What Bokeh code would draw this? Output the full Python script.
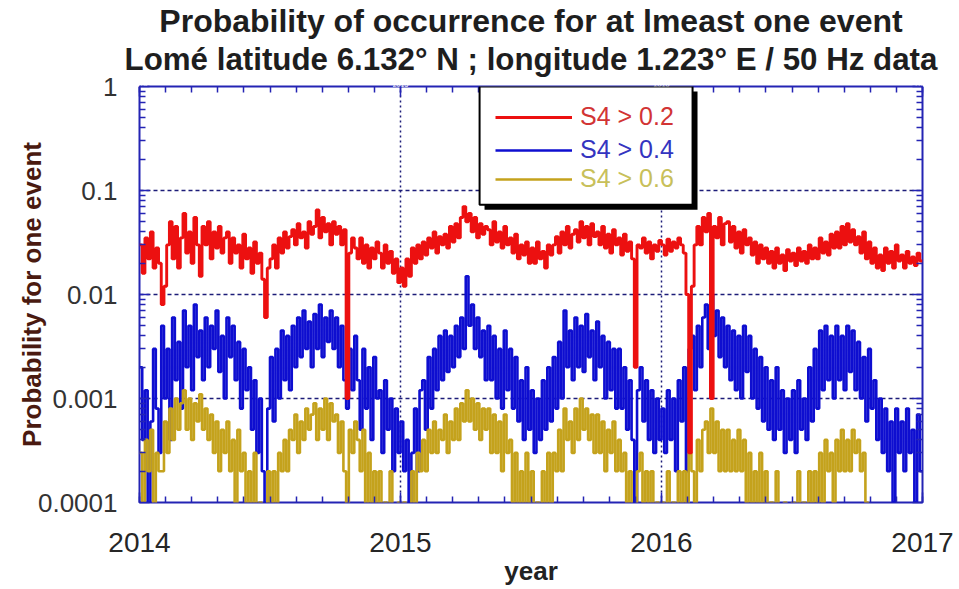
import numpy as np
from bokeh.plotting import figure
from bokeh.models import (Range1d, LinearAxis, LogAxis, FixedTicker, SingleIntervalTicker,
                          Title, Legend, LegendItem, BoxAnnotation)
from bokeh.embed import file_html
from bokeh.resources import INLINE

# ---------------- data (8 samples per month, Jan 2014 .. Dec 2016) ----------------
x_start, x_end = 2014, 2017
x_ticks_years = [2014, 2015, 2016, 2017]
y_ticks = [0.0001, 0.001, 0.01, 0.1, 1]
y_tick_labels = ["0.0001", "0.001", "0.01", "0.1", "1"]
series_labels = ["S4 > 0.2", "S4 > 0.4", "S4 > 0.6"]

s4_gt_02 = [
    0.030, 0.016, 0.035, 0.022, 0.040, 0.018, 0.028, 0.020,
    0.008, 0.012, 0.030, 0.050, 0.022, 0.045, 0.018, 0.035,
    0.060, 0.025, 0.040, 0.020, 0.055, 0.030, 0.015, 0.045,
    0.030, 0.050, 0.022, 0.040, 0.028, 0.045, 0.025, 0.035,
    0.040, 0.020, 0.035, 0.025, 0.030, 0.018, 0.038, 0.022,
    0.028, 0.016, 0.032, 0.020, 0.025, 0.014, 0.006, 0.018,
    0.022, 0.030, 0.018, 0.035, 0.025, 0.040, 0.028, 0.036,
    0.042, 0.030, 0.048, 0.035, 0.040, 0.028, 0.050, 0.038,
    0.045, 0.065, 0.035, 0.055, 0.040, 0.048, 0.030, 0.050,
    0.038, 0.045, 0.030, 0.042, 0.001, 0.025, 0.035, 0.028,
    0.022, 0.035, 0.020, 0.030, 0.018, 0.028, 0.022, 0.032,
    0.025, 0.018, 0.030, 0.020, 0.026, 0.016, 0.022, 0.013,
    0.018, 0.012, 0.022, 0.015, 0.028, 0.020, 0.030, 0.022,
    0.032, 0.024, 0.035, 0.028, 0.040, 0.025, 0.036, 0.030,
    0.038, 0.028, 0.045, 0.032, 0.048, 0.035, 0.055, 0.070,
    0.050, 0.060, 0.040, 0.055, 0.035, 0.048, 0.038, 0.045,
    0.042, 0.030, 0.050, 0.032, 0.040, 0.028, 0.045, 0.030,
    0.035, 0.025, 0.038, 0.022, 0.030, 0.024, 0.032, 0.020,
    0.028, 0.020, 0.032, 0.022, 0.026, 0.018, 0.030, 0.024,
    0.030, 0.036, 0.025, 0.040, 0.030, 0.045, 0.028, 0.038,
    0.042, 0.032, 0.050, 0.035, 0.045, 0.030, 0.048, 0.036,
    0.040, 0.030, 0.045, 0.028, 0.038, 0.025, 0.042, 0.030,
    0.035, 0.024, 0.038, 0.026, 0.032, 0.022, 0.002, 0.030,
    0.028, 0.035, 0.025, 0.032, 0.022, 0.030, 0.026, 0.033,
    0.030, 0.024, 0.034, 0.026, 0.032, 0.028, 0.035, 0.030,
    0.025, 0.010, 0.0003, 0.012, 0.030, 0.045, 0.030, 0.055,
    0.040, 0.060, 0.001, 0.045, 0.035, 0.055, 0.030, 0.048,
    0.050, 0.032, 0.045, 0.028, 0.040, 0.025, 0.042, 0.030,
    0.035, 0.024, 0.032, 0.020, 0.030, 0.022, 0.028, 0.020,
    0.026, 0.018, 0.028, 0.020, 0.024, 0.017, 0.027, 0.021,
    0.025, 0.019, 0.028, 0.021, 0.026, 0.020, 0.030, 0.022,
    0.028, 0.022, 0.035, 0.025, 0.032, 0.024, 0.038, 0.028,
    0.040, 0.028, 0.045, 0.030, 0.048, 0.032, 0.042, 0.030,
    0.036, 0.025, 0.040, 0.022, 0.032, 0.020, 0.028, 0.018,
    0.024, 0.017, 0.028, 0.020, 0.026, 0.018, 0.030, 0.021,
    0.024, 0.018, 0.026, 0.020, 0.023, 0.019, 0.025, 0.021,
]

s4_gt_04 = [
    0.0020, 0.0004, 0.0012, 0.00005, 0.0006, 0.0030, 0.0008, 0.0003,
    0.0050, 0.0010, 0.0030, 0.0004, 0.0060, 0.0015, 0.0035, 0.0008,
    0.0070, 0.0020, 0.0050, 0.0012, 0.0080, 0.0025, 0.0045, 0.0015,
    0.0060, 0.0020, 0.0050, 0.0030, 0.0070, 0.0018, 0.0040, 0.0010,
    0.0060, 0.0025, 0.0050, 0.0015, 0.0035, 0.0008, 0.0030, 0.0012,
    0.0020, 0.0005, 0.0015, 0.0003, 0.0010, 0.0002, 0.00005, 0.0008,
    0.0025, 0.0006, 0.0030, 0.0010, 0.0045, 0.0015, 0.0040, 0.0012,
    0.0050, 0.0020, 0.0060, 0.0025, 0.0070, 0.0030, 0.0055, 0.0020,
    0.0065, 0.0030, 0.0080, 0.0025, 0.0060, 0.0035, 0.0070, 0.0030,
    0.0060, 0.0020, 0.0050, 0.0015, 0.0008, 0.0030, 0.0012, 0.0040,
    0.0015, 0.0005, 0.0030, 0.0008, 0.0020, 0.0004, 0.0025, 0.0010,
    0.0012, 0.0003, 0.0015, 0.0005, 0.0010, 0.0002, 0.0008, 0.0003,
    0.0006, 0.0002, 0.0004, 0.00005, 0.0003, 0.0008, 0.0002, 0.0012,
    0.0015, 0.0005, 0.0025, 0.0008, 0.0030, 0.0012, 0.0040, 0.0015,
    0.0045, 0.0018, 0.0040, 0.0020, 0.0050, 0.0025, 0.0060, 0.0030,
    0.0150, 0.0050, 0.0080, 0.0030, 0.0060, 0.0025, 0.0045, 0.0015,
    0.0050, 0.0015, 0.0040, 0.0010, 0.0030, 0.0008, 0.0045, 0.0012,
    0.0030, 0.0008, 0.0025, 0.0006, 0.0015, 0.0004, 0.0020, 0.0005,
    0.0012, 0.0003, 0.0010, 0.0004, 0.0015, 0.0005, 0.0020, 0.0006,
    0.0025, 0.0008, 0.0035, 0.0010, 0.0070, 0.0020, 0.0045, 0.0015,
    0.0060, 0.0020, 0.0050, 0.0018, 0.0065, 0.0025, 0.0045, 0.0015,
    0.0055, 0.0020, 0.0040, 0.0010, 0.0035, 0.0012, 0.0030, 0.0008,
    0.0030, 0.0008, 0.0020, 0.0005, 0.0015, 0.0004, 0.0001, 0.0012,
    0.0020, 0.0006, 0.0015, 0.0004, 0.0012, 0.0003, 0.0010, 0.0004,
    0.0008, 0.0003, 0.0012, 0.0004, 0.0010, 0.0002, 0.0015, 0.0006,
    0.0020, 0.0002, 0.0030, 0.0040, 0.0012, 0.0050, 0.0020, 0.0060,
    0.0080, 0.0030, 0.0100, 0.0040, 0.0070, 0.0025, 0.0060, 0.0020,
    0.0050, 0.0015, 0.0045, 0.0012, 0.0040, 0.0010, 0.0050, 0.0018,
    0.0040, 0.0010, 0.0030, 0.0008, 0.0025, 0.0006, 0.0020, 0.0005,
    0.0015, 0.0004, 0.0020, 0.0005, 0.0012, 0.0003, 0.0010, 0.0004,
    0.0012, 0.0003, 0.0015, 0.0005, 0.0010, 0.0004, 0.0020, 0.0006,
    0.0030, 0.0008, 0.0045, 0.0012, 0.0050, 0.0015, 0.0040, 0.0010,
    0.0050, 0.0015, 0.0040, 0.0012, 0.0050, 0.0018, 0.0045, 0.0012,
    0.0035, 0.0010, 0.0025, 0.0006, 0.0030, 0.0008, 0.0015, 0.0004,
    0.0010, 0.0003, 0.0008, 0.0002, 0.0006, 0.0001, 0.0008, 0.0003,
    0.0006, 0.0002, 0.0008, 0.0003, 0.0005, 0.0001, 0.0007, 0.0002,
]

s4_gt_06 = [
    0.0003, 0.00005, 0.0004, 0.0002, 0.0005, 0.00005, 0.0003, 0.0002,
    0.0002, 0.0006, 0.0003, 0.0008, 0.0004, 0.0010, 0.0005, 0.0009,
    0.0012, 0.0005, 0.0010, 0.0004, 0.0009, 0.0006, 0.0011, 0.0005,
    0.0008, 0.0004, 0.0007, 0.0003, 0.0006, 0.0002, 0.0005, 0.0003,
    0.0006, 0.0002, 0.0004, 0.00005, 0.0005, 0.0002, 0.0003, 0.00005,
    0.0002, 0.00005, 0.0003, 0.00005, 0.0001, 0.00005, 0.00005, 0.0002,
    0.00005, 0.0002, 0.00005, 0.0003, 0.0002, 0.0004, 0.0002, 0.0005,
    0.0004, 0.0007, 0.0003, 0.0006, 0.0004, 0.0008, 0.0005, 0.0007,
    0.0009, 0.0004, 0.0008, 0.0005, 0.0010, 0.0004, 0.0009, 0.0006,
    0.0007, 0.0003, 0.0006, 0.0002, 0.00005, 0.0005, 0.0003, 0.0006,
    0.0004, 0.0002, 0.0005, 0.00005, 0.0003, 0.0001, 0.0002, 0.00005,
    0.0002, 0.00005, 0.0001, 0.00005, 0.0002, 0.00005, 0.00005, 0.0001,
    0.00005, 0.0001, 0.00005, 0.00005, 0.0002, 0.00005, 0.0003, 0.0002,
    0.0004, 0.0002, 0.0005, 0.0003, 0.0006, 0.0003, 0.0005, 0.0004,
    0.0007, 0.0003, 0.0006, 0.0004, 0.0008, 0.0004, 0.0009, 0.0006,
    0.0012, 0.0006, 0.0010, 0.0005, 0.0009, 0.0004, 0.0008, 0.0005,
    0.0008, 0.0003, 0.0007, 0.0003, 0.0006, 0.0002, 0.0007, 0.0003,
    0.0004, 0.0001, 0.0003, 0.00005, 0.0002, 0.00005, 0.0003, 0.0001,
    0.0002, 0.00005, 0.0001, 0.00005, 0.0002, 0.00005, 0.0003, 0.0001,
    0.0003, 0.0002, 0.0005, 0.0002, 0.0008, 0.0004, 0.0006, 0.0003,
    0.0008, 0.0004, 0.0010, 0.0005, 0.0008, 0.0004, 0.0007, 0.0003,
    0.0007, 0.0003, 0.0006, 0.0002, 0.0005, 0.0003, 0.0006, 0.0002,
    0.0004, 0.0002, 0.0003, 0.0001, 0.0002, 0.00005, 0.00005, 0.0002,
    0.0003, 0.0001, 0.0002, 0.00005, 0.0002, 0.00005, 0.0001, 0.00005,
    0.0001, 0.00005, 0.0002, 0.00005, 0.0001, 0.00005, 0.0002, 0.0001,
    0.0002, 0.00005, 0.0003, 0.0002, 0.0001, 0.0004, 0.0002, 0.0005,
    0.0006, 0.0003, 0.0008, 0.0003, 0.0006, 0.0002, 0.0005, 0.0002,
    0.0005, 0.0002, 0.0004, 0.0002, 0.0005, 0.0002, 0.0004, 0.0001,
    0.0003, 0.0001, 0.0002, 0.00005, 0.0003, 0.00005, 0.0002, 0.00005,
    0.0001, 0.00005, 0.0002, 0.00005, 0.00005, 0.0001, 0.00005, 0.00005,
    0.0001, 0.00005, 0.0002, 0.00005, 0.0001, 0.00005, 0.0002, 0.0001,
    0.0002, 0.0001, 0.0003, 0.0001, 0.0004, 0.0002, 0.0003, 0.0001,
    0.0004, 0.0002, 0.0005, 0.0002, 0.0004, 0.0002, 0.0005, 0.0003,
    0.0004, 0.0002, 0.0003, 0.0001, 0.00005, 0.00005, 0.00005, 0.00005,
    0.00005, 0.00005, 0.00005, 0.00005, 0.00005, 0.00005, 0.00005, 0.00005,
    0.00005, 0.00005, 0.00005, 0.00005, 0.00005, 0.00005, 0.00005, 0.00005,
]

# ---------------- styling ----------------
RED, BLUE, GOLD = "#ec1010", "#0e0ed0", "#c4a21c"
LABEL_COLORS = ["#d23434", "#3434c0", "#c8c05a"]
FRAME_BLUE = "#2424b4"
GRID_COL = "#1c1c78"
FONT = "Liberation Sans"


def step_xy(values):
    n = len(values)
    xs = list(x_start + np.arange(n) * (x_end - x_start) / n) + [x_end]
    ys = list(values) + [values[-1]]
    return xs, ys


p = figure(width=959, height=589, title=None,
           x_range=Range1d(x_start, x_end), y_range=Range1d(y_ticks[0], y_ticks[-1]),
           y_axis_type="log", output_backend="svg", toolbar_location=None,
           min_border_left=139, min_border_right=37, min_border_top=0, min_border_bottom=87)
p.background_fill_color = "white"
p.border_fill_color = "white"
p.outline_line_color = FRAME_BLUE
p.outline_line_width = 2

# series (blue under gold under red)
rends = {}
for name, vals, col, lw in [("b", s4_gt_04, BLUE, 2.6), ("g", s4_gt_06, GOLD, 2.6),
                            ("r", s4_gt_02, RED, 2.9)]:
    xs, ys = step_xy(vals)
    rends[name] = p.step(xs, ys, mode="after", line_color=col, line_width=lw)

# axes
minor_y = [k * 10.0 ** d for d in range(-4, 0) for k in range(2, 10)]
yticker = FixedTicker(ticks=y_ticks, minor_ticks=minor_y)
xticker = SingleIntervalTicker(interval=1, num_minor_ticks=10)

xa = p.xaxis[0]
xa.ticker = xticker
xa.major_label_overrides = {yr: str(yr) for yr in x_ticks_years}
ya = p.yaxis[0]
ya.ticker = yticker
ya.major_label_overrides = dict(zip(y_ticks, y_tick_labels))

# unlabeled mirror axes (ticks only); the top one keeps a small gap under the title
top_ax = LinearAxis(ticker=xticker)
right_ax = LogAxis(ticker=yticker)
right_ax.major_label_text_font_size = "1px"
right_ax.major_label_text_alpha = 0
right_ax.major_label_standoff = 0
top_ax.major_label_text_font_size = "7px"
top_ax.major_label_text_color = "white"
top_ax.major_label_standoff = 0
p.add_layout(top_ax, "above")
p.add_layout(right_ax, "right")

for ax in [xa, ya, top_ax, right_ax]:
    ax.axis_line_color = None
    ax.major_tick_in = 10
    ax.major_tick_out = 0
    ax.minor_tick_in = 6
    ax.minor_tick_out = 0
    ax.major_tick_line_color = FRAME_BLUE
    ax.minor_tick_line_color = FRAME_BLUE
    ax.major_tick_line_width = 1.5
    ax.minor_tick_line_width = 1.5

xa.major_label_text_font = FONT
xa.major_label_text_font_size = "28px"
xa.major_label_text_color = "#262626"
xa.major_label_standoff = 30
xa.axis_label = "year"
xa.axis_label_text_font = FONT
xa.axis_label_text_font_size = "26px"
xa.axis_label_text_font_style = "bold"
xa.axis_label_text_color = "#222222"
xa.axis_label_standoff = 1

ya.major_label_text_font = FONT
ya.major_label_text_font_size = "26px"
ya.major_label_text_color = "#333333"
ya.major_label_standoff = 22
ya.axis_label = "Probability for one event"
ya.axis_label_text_font = FONT
ya.axis_label_text_font_size = "26px"
ya.axis_label_text_font_style = "bold"
ya.axis_label_text_color = "#4a1a10"
ya.axis_label_standoff = -12

# grid
p.xgrid.ticker = xticker
p.ygrid.ticker = yticker
p.xgrid.grid_line_color = GRID_COL
p.xgrid.grid_line_dash = "2 3"
p.xgrid.grid_line_width = 1.5
p.ygrid.grid_line_color = GRID_COL
p.ygrid.grid_line_dash = "4 3"
p.ygrid.grid_line_width = 1.5

# titles (first added sits nearest to the frame)
t2 = Title(text="Lomé latitude 6.132° N ; longitude 1.223° E / 50 Hz data", align="center",
           text_font=FONT, text_font_size="31.3px", text_font_style="bold",
           text_color="#1e1e1e", standoff=3)
t1 = Title(text="Probability of occurrence for at lmeast one event", align="center",
           text_font=FONT, text_font_size="32px", text_font_style="bold",
           text_color="#1e1e1e", standoff=0)
p.add_layout(t2, "above")
p.add_layout(t1, "above")

# legend box with shadow
box_left, box_right, box_bottom, box_top = 2015.303, 2016.119, 0.0729, 1.0
p.add_layout(BoxAnnotation(left=box_left + 0.019, right=box_right + 0.019,
                           bottom=box_bottom * 0.895, top=box_top * 0.895,
                           fill_color="black", fill_alpha=1.0, line_color=None))
p.add_layout(BoxAnnotation(left=box_left, right=box_right, bottom=box_bottom, top=box_top,
                           fill_color="white", fill_alpha=1.0, line_color="black",
                           line_width=2, line_alpha=1.0))

leg_rows = [371, 338, 309]
for lab, key, tcol, yloc in zip(series_labels, ["r", "b", "g"], LABEL_COLORS, leg_rows):
    leg = Legend(items=[LegendItem(label=lab, renderers=[rends[key]])], location=(356, yloc),
                 padding=0, margin=0, spacing=0, glyph_width=77, glyph_height=26,
                 label_height=26, label_standoff=8, label_text_font=FONT,
                 label_text_font_size="25px", label_text_color=tcol,
                 border_line_alpha=0, background_fill_alpha=0)
    p.add_layout(leg, "center")

open("out.html", "w").write(file_html(p, INLINE))
